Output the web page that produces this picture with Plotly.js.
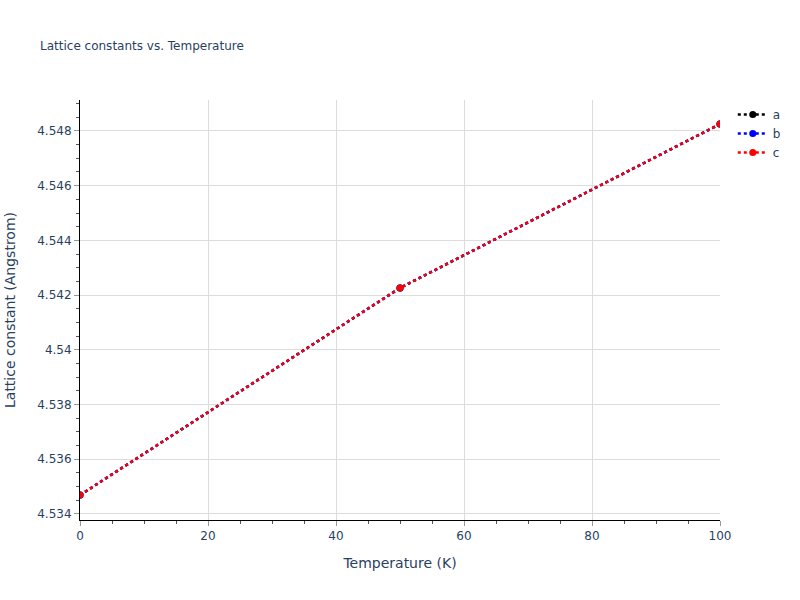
<!DOCTYPE html>
<html>
<head>
<meta charset="utf-8">
<script src="https://cdn.plot.ly/plotly-3.0.1.min.js"></script>
<style>
  body { margin: 0; }
  #plot { width: 800px; height: 600px; }
</style>
</head>
<body>
<div id="plot"></div>
<script>
// temperatures (K) and lattice constants (Angstrom)
const temperature = [0, 50, 100];
const latticeA = [4.53469, 4.54226, 4.54825];
const latticeB = [4.53469, 4.54226, 4.54825];
const latticeC = [4.53469, 4.54226, 4.54825];

const seriesNames = ['a', 'b', 'c'];
const seriesColors = ['black', 'blue', 'red'];

const traces = [latticeA, latticeB, latticeC].map((vals, i) => ({
    x: temperature,
    y: vals,
    name: seriesNames[i],
    type: 'scatter',
    mode: 'lines+markers',
    line: { color: seriesColors[i], dash: 'dot', width: 2.5 },
    marker: { color: seriesColors[i], size: 7 },
}));

const axisStyle = {
    showline: true,
    linecolor: 'black',
    linewidth: 1,
    ticks: 'outside',
    tickcolor: '#999',
    ticklen: 5,
    gridcolor: '#dcdcdc',
    zeroline: false,
};

const layout = {
    width: 800,
    height: 600,
    paper_bgcolor: 'white',
    plot_bgcolor: 'white',
    font: { family: '"DejaVu Sans", Verdana, sans-serif', color: '#2a3f5f', size: 12 },
    title: {
        text: 'Lattice constants vs. Temperature',
        x: 0.05,
        xanchor: 'left',
        font: { size: 12 },
    },
    xaxis: Object.assign({}, axisStyle, {
        range: [0, 100],
        dtick: 20,
        minor: { dtick: 5, ticks: 'outside', ticklen: 3, tickcolor: '#555' },
        title: { text: 'Temperature (K)', standoff: 15 },
    }),
    yaxis: Object.assign({}, axisStyle, {
        range: [4.53378, 4.54913],
        dtick: 0.002,
        minor: { dtick: 0.0005, ticks: 'outside', ticklen: 3, tickcolor: '#555' },
        title: { text: 'Lattice constant (Angstrom)', standoff: 18 },
    }),
    showlegend: true,
    margin: { l: 80, r: 80, t: 100, b: 80 },
};

Plotly.newPlot('plot', traces, layout, { displayModeBar: false });
</script>
</body>
</html>
